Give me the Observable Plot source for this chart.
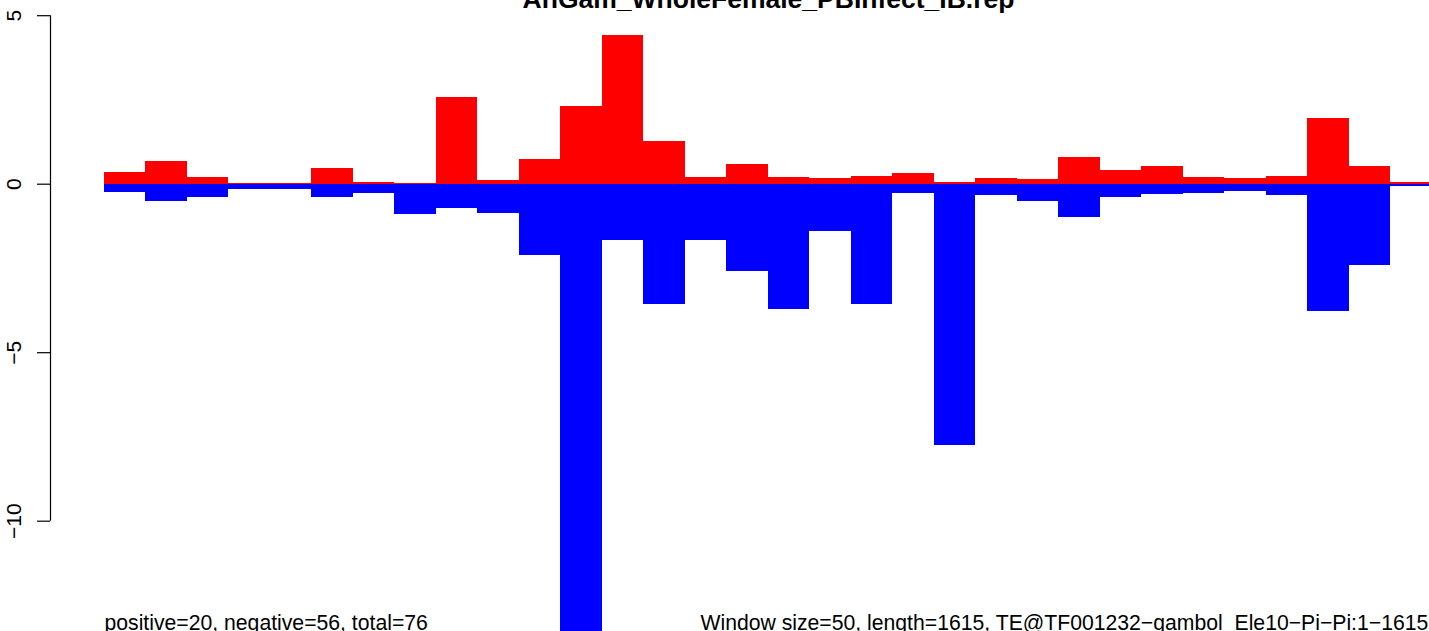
<!DOCTYPE html>
<html><head><meta charset="utf-8">
<script src="https://cdn.jsdelivr.net/npm/d3@7"></script>
<script src="https://cdn.jsdelivr.net/npm/@observablehq/plot@0.6"></script>
<style>html,body{margin:0;padding:0;background:#fff;overflow:hidden} svg{display:block}</style>
</head><body><div id="chart"></div>
<script>
// window index (each window = 50 bp)
const windows = [0,1,2,3,4,5,6,7,8,9,10,11,12,13,14,15,16,17,18,19,20,21,22,23,24,25,26,27,28,29,30,31];
const positiveValues = [0.35,0.68,0.20,0.03,0.01,0.47,0.06,0.03,2.58,0.11,0.74,2.31,4.42,1.27,0.21,0.59,0.20,0.17,0.23,0.32,0.06,0.18,0.15,0.80,0.41,0.53,0.21,0.18,0.24,1.96,0.53,0.06];
const negativeValues = [-0.24,-0.51,-0.39,-0.15,-0.15,-0.39,-0.29,-0.89,-0.72,-0.87,-2.13,-14.0,-1.68,-3.58,-1.66,-2.58,-3.73,-1.40,-3.56,-0.27,-7.74,-0.35,-0.50,-1.00,-0.38,-0.32,-0.29,-0.23,-0.35,-3.79,-2.42,-0.08];
const yTicks = [5, 0, -5, -10];
const titleText = "AnGam_WholeFemale_PBInfect_IB.rep";
const summaryText = "positive=20, negative=56, total=76";
const infoText = "Window size=50, length=1615, TE@TF001232\u2212gambol_Ele10\u2212Pi\u2212Pi:1\u22121615";

const rows = windows.map((w, i) => ({x1: w, x2: w + 1, pos: positiveValues[i], neg: negativeValues[i]}));
const xDomain = [-1.301, 31.928];
const yDomain = [-13.273, 5.451];
const font = "'Liberation Sans', Arial, Helvetica, sans-serif";

const chart = Plot.plot({
  width: 1429, height: 631,
  marginLeft: 50, marginRight: 0, marginTop: 0, marginBottom: 0,
  x: {domain: xDomain, axis: null},
  y: {domain: yDomain, axis: null},
  style: {fontFamily: font, background: "#ffffff", color: "#000000"},
  marks: [
    Plot.rect(rows, {x1: "x1", x2: "x2", y1: 0, y2: "pos", fill: "#ff0000", clip: true, shapeRendering: "crispEdges"}),
    Plot.rect(rows, {x1: "x1", x2: "x2", y1: 0, y2: "neg", fill: "#0000ff", clip: true, shapeRendering: "crispEdges"}),
    Plot.axisY({ticks: yTicks, tickSize: 13, tickRotate: -90, tickPadding: 17, fontSize: 21, label: null, strokeWidth: 1.2}),
    Plot.ruleX([xDomain[0]], {y1: yTicks[3], y2: yTicks[0], stroke: "#000", strokeWidth: 1.2}),
    Plot.text([titleText], {x: 16, frameAnchor: "top", lineAnchor: "bottom", dy: 7.5, fontSize: 26.5, fontWeight: "bold", fill: "#000"}),
    Plot.text([summaryText], {x: 0, frameAnchor: "bottom", textAnchor: "start", lineAnchor: "bottom", dy: -1.5, fontSize: 21.2, fill: "#000"}),
    Plot.text([infoText], {x: 14.36, frameAnchor: "bottom", textAnchor: "start", lineAnchor: "bottom", dy: -1.5, fontSize: 21.2, fill: "#000"})
  ]
});
document.getElementById("chart").appendChild(chart);
</script>
</body></html>
